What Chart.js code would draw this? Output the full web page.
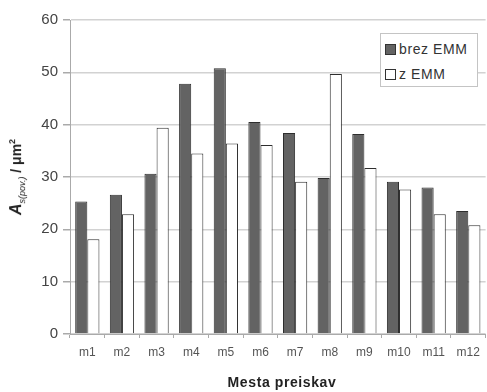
<!DOCTYPE html>
<html>
<head>
<meta charset="utf-8">
<script src="https://cdn.jsdelivr.net/npm/chart.js@4/dist/chart.umd.min.js"></script>
<style>
  html, body { margin: 0; padding: 0; background: #fff; }
  #wrap { position: relative; width: 487px; height: 392px; font-family: "Liberation Sans", Arial, sans-serif; }
  #c { position: absolute; left: 0; top: 0; }
  #ytitle { position: absolute; left: 17px; top: 177px; transform: translate(-50%, -50%) rotate(-90deg); white-space: nowrap; font-size: 14px; font-weight: bold; color: #222; }
  #ytitle i { font-size: 16px; }
  #ytitle sub { font-size: 9px; font-weight: normal; font-style: italic; }
  #ytitle sup { font-size: 9px; }
  #xtitle { position: absolute; left: 282px; top: 382px; transform: translate(-50%, -50%); font-size: 14px; font-weight: bold; letter-spacing: 0.6px; color: #222; white-space: nowrap; }
  #legend { position: absolute; left: 380px; top: 33px; width: 98px; height: 54px; border: 1px solid #c4c4c4; background: #fff; box-sizing: border-box; font-size: 14px; letter-spacing: 0.6px; color: #333; }
  .li { position: absolute; left: 4px; display: flex; align-items: center; line-height: 16px; }
  .sw { width: 11px; height: 11px; box-sizing: border-box; border: 1px solid #333; margin-right: 3px; }
</style>
</head>
<body>
<div id="wrap">
  <canvas id="c" width="487" height="392"></canvas>
  <div id="ytitle"><i>A</i><sub>s(pov.)</sub> / μm<sup>2</sup></div>
  <div id="xtitle">Mesta preiskav</div>
  <div id="legend">
    <div class="li" style="top:7px"><div class="sw" style="background:#636363"></div>brez EMM</div>
    <div class="li" style="top:32px"><div class="sw" style="background:#fff"></div>z EMM</div>
  </div>
</div>
<script>
// Measuring sites and surface area values for both series
const categories = ['m1','m2','m3','m4','m5','m6','m7','m8','m9','m10','m11','m12'];
const brezEMM = [25.3, 26.6, 30.6, 47.8, 50.8, 40.5, 38.4, 29.8, 38.2, 29.1, 28.0, 23.5];
const zEMM    = [18.1, 22.9, 39.4, 34.5, 36.4, 36.1, 29.1, 49.7, 31.7, 27.6, 22.9, 20.8];
const seriesNames = ['brez EMM', 'z EMM'];
const yTicks = [0, 10, 20, 30, 40, 50, 60];

new Chart(document.getElementById('c'), {
  type: 'bar',
  data: {
    labels: categories,
    datasets: [
      { label: seriesNames[0], data: brezEMM, backgroundColor: '#636363', borderColor: '#2e2e2e', borderWidth: 1 },
      { label: seriesNames[1], data: zEMM, backgroundColor: '#ffffff', borderColor: '#2e2e2e', borderWidth: 1 }
    ]
  },
  options: {
    responsive: false,
    animation: false,
    layout: { padding: { top: 20, right: 1, left: 0, bottom: 0 } },
    plugins: { legend: { display: false }, tooltip: { enabled: false } },
    datasets: { bar: { categoryPercentage: 0.7, barPercentage: 1.0 } },
    scales: {
      x: {
        offset: true,
        grid: { drawOnChartArea: false, color: '#aaa', tickLength: 4, offset: true },
        border: { color: '#aaa' },
        ticks: { color: '#555', font: { family: 'Liberation Sans', size: 12 }, padding: 7, maxRotation: 0 },
        afterFit: s => { s.height = 58; }
      },
      y: {
        min: 0, max: 60,
        afterBuildTicks: s => { s.ticks = yTicks.map(v => ({ value: v })); },
        grid: { color: '#d2d2d2', lineWidth: 1.5, tickLength: 7, tickColor: '#aaa' },
        border: { color: '#aaa' },
        ticks: { color: '#444', font: { family: 'Liberation Sans', size: 15 }, padding: 5 },
        afterFit: s => { s.width = 70; }
      }
    }
  }
});
</script>
</body>
</html>
